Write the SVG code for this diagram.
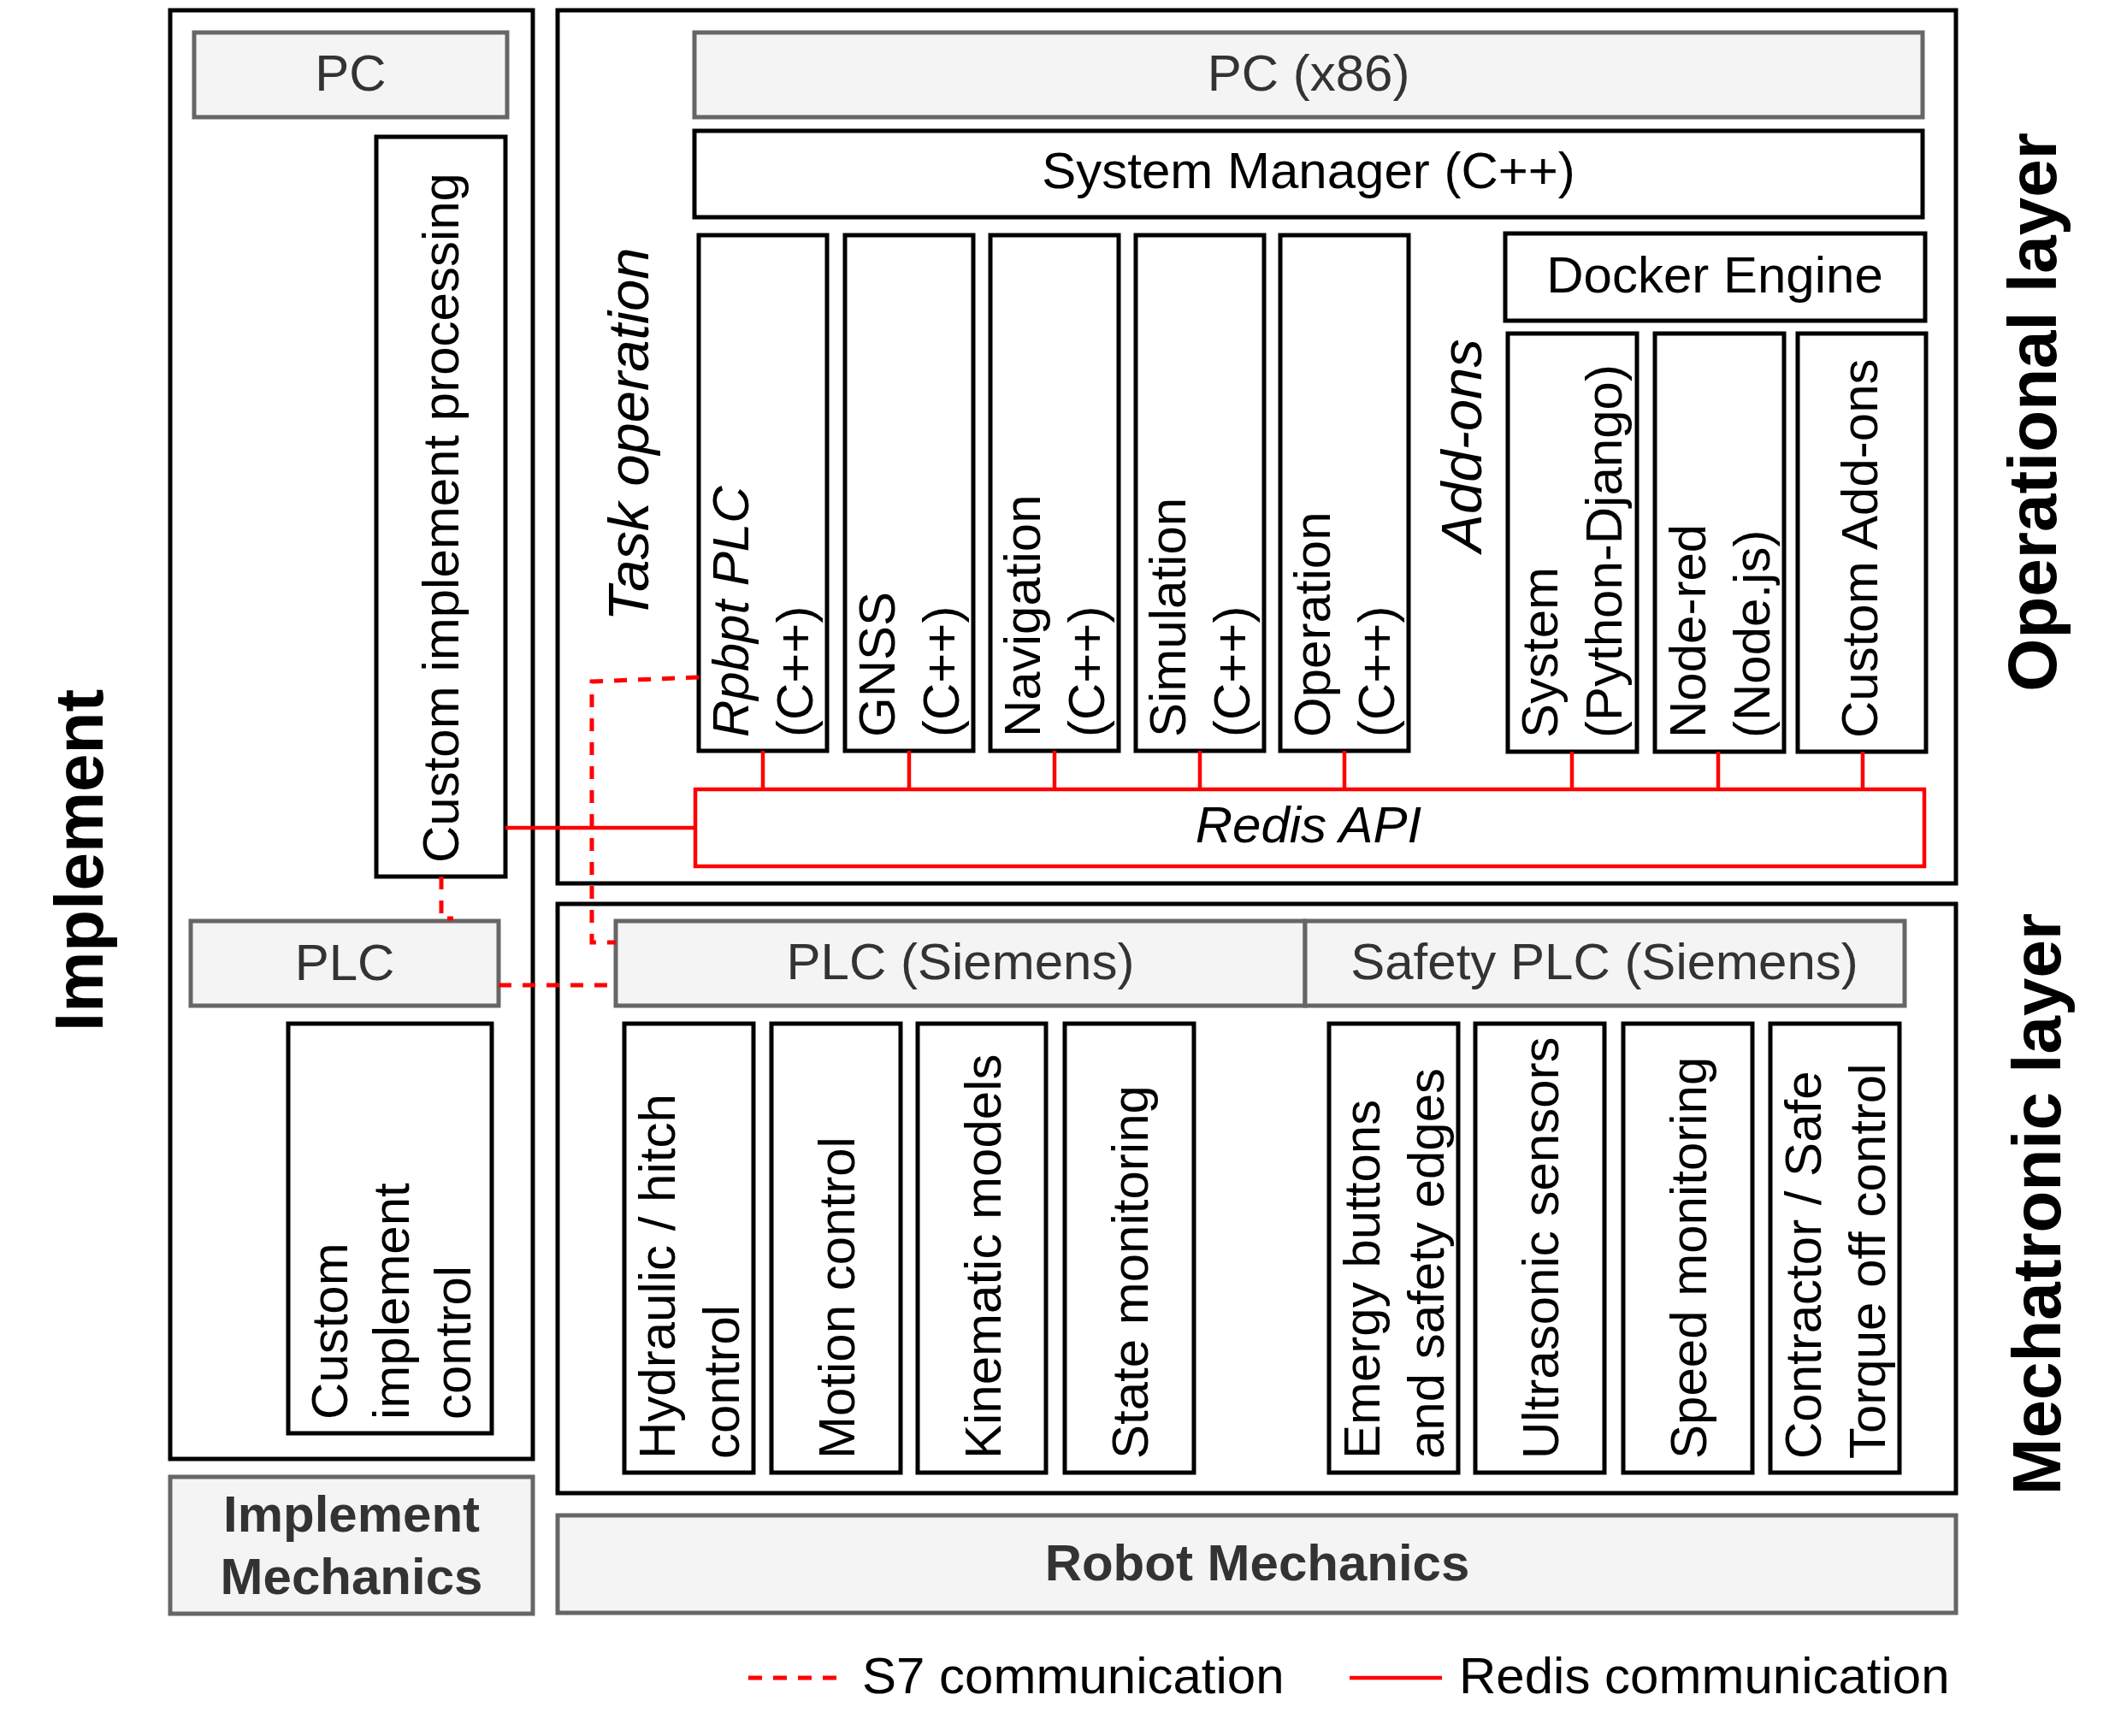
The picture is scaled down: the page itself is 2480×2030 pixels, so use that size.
<svg xmlns="http://www.w3.org/2000/svg" width="2480" height="2030" viewBox="0 0 2480 2030">
<defs>
<style>
.box{fill:#fff;stroke:#000;stroke-width:5}
.frame{fill:none;stroke:#000;stroke-width:5}
.gbox{fill:#f4f4f4;stroke:#666;stroke-width:5}
.t{font-family:"Liberation Sans",Arial,sans-serif;font-size:60px;fill:#000}
.gt{fill:#333}
.c{text-anchor:middle}
.it{font-style:italic}
.b{font-weight:bold}
.sec{font-size:67px}
.lay{font-size:80px;font-weight:bold}
.red{stroke:#ff0000;stroke-width:4.5;fill:none}
.dash{stroke-dasharray:15 13;stroke-width:5}
.rbox{fill:#fff;stroke:#ff0000;stroke-width:4.5}
</style>
</defs>
<rect width="2480" height="2030" fill="#fff"/>

<!-- Implement column -->
<g id="implement">
  <rect class="frame" x="199" y="12" width="424" height="1694"/>
  <text class="t lay c" transform="translate(120,1006) rotate(-90)">Implement</text>
</g>
<g id="impl-pc">
  <rect class="gbox" x="227" y="38" width="366" height="99"/>
  <text class="t gt c" x="410" y="106">PC</text>
</g>
<g id="impl-processing">
  <rect class="box" x="440" y="160" width="151" height="865"/>
  <text class="t" transform="translate(536,1009) rotate(-90)">Custom implement processing</text>
</g>
<g id="impl-plc">
  <rect class="gbox" x="223" y="1077" width="360" height="99"/>
  <text class="t gt c" x="403" y="1146">PLC</text>
</g>
<g id="impl-control">
  <rect class="box" x="337" y="1197" width="238" height="479"/>
  <text class="t" transform="translate(406,1660) rotate(-90)"><tspan x="0" y="0">Custom</tspan><tspan x="0" y="72">implement</tspan><tspan x="0" y="144">control</tspan></text>
</g>
<g id="impl-mechanics">
  <rect class="gbox" x="199" y="1727" width="424" height="160"/>
  <text class="t gt b c" x="411" y="1791">Implement</text>
  <text class="t gt b c" x="411" y="1864">Mechanics</text>
</g>

<!-- Operational layer -->
<g id="operational">
  <rect class="frame" x="652" y="12" width="1635" height="1021"/>
  <text class="t lay c" transform="translate(2404,482) rotate(-90)">Operational layer</text>
  <text class="t it sec c" transform="translate(758,508) rotate(-90)">Task operation</text>
  <text class="t it sec c" transform="translate(1732,521) rotate(-90)">Add-ons</text>
</g>
<g id="pc-x86">
  <rect class="gbox" x="812" y="38" width="1436" height="99"/>
  <text class="t gt c" x="1530" y="106">PC (x86)</text>
</g>
<g id="system-manager">
  <rect class="box" x="812" y="153" width="1436" height="101"/>
  <text class="t c" x="1530" y="220">System Manager (C++)</text>
</g>
<g id="rpbpt-plc">
  <rect class="box" x="817" y="275" width="150" height="603"/>
  <text class="t" transform="translate(875,862) rotate(-90)"><tspan class="it" x="0" y="0">Rpbpt PLC</tspan><tspan x="0" y="75">(C++)</tspan></text>
</g>
<g id="gnss">
  <rect class="box" x="988" y="275" width="150" height="603"/>
  <text class="t" transform="translate(1046,862) rotate(-90)"><tspan x="0" y="0">GNSS</tspan><tspan x="0" y="75">(C++)</tspan></text>
</g>
<g id="navigation">
  <rect class="box" x="1158" y="275" width="150" height="603"/>
  <text class="t" transform="translate(1216,862) rotate(-90)"><tspan x="0" y="0">Navigation</tspan><tspan x="0" y="75">(C++)</tspan></text>
</g>
<g id="simulation">
  <rect class="box" x="1328" y="275" width="150" height="603"/>
  <text class="t" transform="translate(1386,862) rotate(-90)"><tspan x="0" y="0">Simulation</tspan><tspan x="0" y="75">(C++)</tspan></text>
</g>
<g id="operation">
  <rect class="box" x="1497" y="275" width="150" height="603"/>
  <text class="t" transform="translate(1555,862) rotate(-90)"><tspan x="0" y="0">Operation</tspan><tspan x="0" y="75">(C++)</tspan></text>
</g>
<g id="docker">
  <rect class="box" x="1760" y="273" width="491" height="102"/>
  <text class="t c" x="2005" y="342">Docker Engine</text>
</g>
<g id="system-django">
  <rect class="box" x="1763" y="390" width="151" height="489"/>
  <text class="t" transform="translate(1821,863) rotate(-90)"><tspan x="0" y="0">System</tspan><tspan x="0" y="75">(Python-Django)</tspan></text>
</g>
<g id="node-red">
  <rect class="box" x="1935" y="390" width="151" height="489"/>
  <text class="t" transform="translate(1994,863) rotate(-90)"><tspan x="0" y="0">Node-red</tspan><tspan x="0" y="75">(Node.js)</tspan></text>
</g>
<g id="custom-addons">
  <rect class="box" x="2102" y="390" width="150" height="489"/>
  <text class="t" transform="translate(2195,863) rotate(-90)">Custom Add-ons</text>
</g>
<g id="redis-api">
  <rect class="rbox" x="813" y="923" width="1437" height="90"/>
  <text class="t it c" x="1530" y="985">Redis API</text>
</g>

<!-- Mechatronic layer -->
<g id="mechatronic">
  <rect class="frame" x="652" y="1057" width="1635" height="689"/>
  <text class="t lay c" transform="translate(2409,1408) rotate(-90)">Mechatronic layer</text>
</g>
<g id="plc-siemens">
  <rect class="gbox" x="720" y="1077" width="806" height="99"/>
  <text class="t gt c" x="1123" y="1145">PLC (Siemens)</text>
</g>
<g id="safety-plc">
  <rect class="gbox" x="1526" y="1077" width="701" height="99"/>
  <text class="t gt c" x="1876" y="1145">Safety PLC (Siemens)</text>
</g>
<g id="hydraulic">
  <rect class="box" x="730" y="1197" width="151" height="525"/>
  <text class="t" transform="translate(789,1706) rotate(-90)"><tspan x="0" y="0">Hydraulic / hitch</tspan><tspan x="0" y="75">control</tspan></text>
</g>
<g id="motion">
  <rect class="box" x="902" y="1197" width="151" height="525"/>
  <text class="t" transform="translate(999,1706) rotate(-90)">Motion control</text>
</g>
<g id="kinematic">
  <rect class="box" x="1073" y="1197" width="150" height="525"/>
  <text class="t" transform="translate(1170,1706) rotate(-90)">Kinematic models</text>
</g>
<g id="state-monitoring">
  <rect class="box" x="1245" y="1197" width="151" height="525"/>
  <text class="t" transform="translate(1342,1706) rotate(-90)">State monitoring</text>
</g>
<g id="emergency">
  <rect class="box" x="1554" y="1197" width="151" height="525"/>
  <text class="t" transform="translate(1613,1706) rotate(-90)"><tspan x="0" y="0">Emergy buttons</tspan><tspan x="0" y="75">and safety edges</tspan></text>
</g>
<g id="ultrasonic">
  <rect class="box" x="1725" y="1197" width="151" height="525"/>
  <text class="t" transform="translate(1822,1706) rotate(-90)">Ultrasonic sensors</text>
</g>
<g id="speed">
  <rect class="box" x="1898" y="1197" width="151" height="525"/>
  <text class="t" transform="translate(1995,1706) rotate(-90)">Speed monitoring</text>
</g>
<g id="contractor">
  <rect class="box" x="2070" y="1197" width="151" height="525"/>
  <text class="t" transform="translate(2129,1706) rotate(-90)"><tspan x="0" y="0">Contractor / Safe</tspan><tspan x="0" y="75">Torque off control</tspan></text>
</g>
<g id="robot-mechanics">
  <rect class="gbox" x="652" y="1772" width="1635" height="114"/>
  <text class="t gt b c" x="1470" y="1848">Robot Mechanics</text>
</g>

<!-- Connectors -->
<g id="connectors">
  <path class="red" d="M892 878V923M1063 878V923M1233 878V923M1403 878V923M1572 878V923M1838 879V923M2009 879V923M2178 879V923"/>
  <path class="red" d="M591 968H813"/>
  <path class="red dash" d="M817 792L692 797V1102H720"/>
  <path class="red dash" d="M516 1025V1074H530"/>
  <path class="red dash" d="M583 1152H720"/>
</g>

<!-- Legend -->
<g id="legend">
  <path class="red" style="stroke-dasharray:16 13;stroke-width:5" d="M875 1962H981"/>
  <text class="t" x="1008" y="1980">S7 communication</text>
  <path class="red" d="M1578 1962H1686"/>
  <text class="t" x="1706" y="1980">Redis communication</text>
</g>
</svg>
